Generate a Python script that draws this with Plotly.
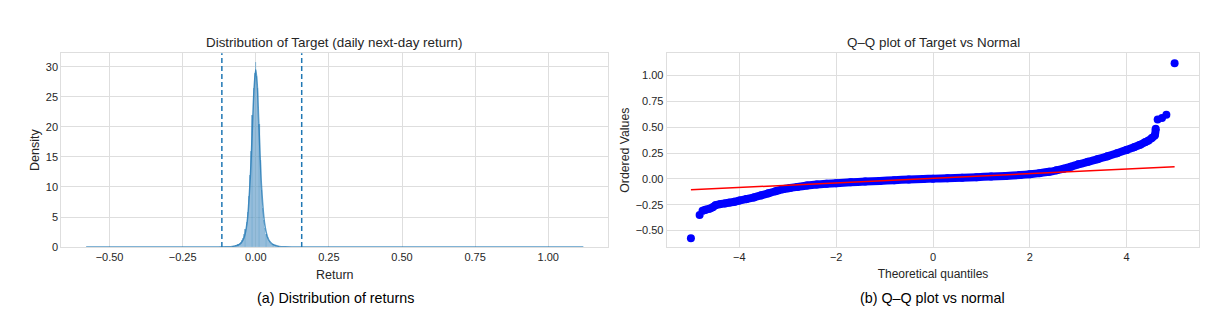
import plotly.graph_objects as go

# ---------------- data ----------------
# Histogram of returns (density), core bins; width 0.004
hist_centers = [-0.080, -0.076, -0.072, -0.068, -0.064, -0.060, -0.056, -0.052, -0.048, -0.044,
                -0.040, -0.036, -0.032, -0.028, -0.024, -0.020, -0.016, -0.012, -0.008, -0.004,
                0.000, 0.004, 0.008, 0.012, 0.016, 0.020, 0.024, 0.028, 0.032, 0.036,
                0.040, 0.044, 0.048, 0.052, 0.056, 0.060, 0.064, 0.068, 0.072, 0.076, 0.080]
hist_density = [0.1, 0.15, 0.2, 0.25, 0.35, 0.45, 0.6, 0.8, 1.1, 1.5,
                2.1, 2.9, 4.2, 5.8, 8.5, 12.0, 16.0, 22.0, 26.5, 29.0,
                30.7, 28.5, 26.5, 20.5, 14.5, 9.5, 6.5, 4.5, 3.2, 2.2,
                1.7, 1.2, 0.9, 0.7, 0.55, 0.4, 0.3, 0.25, 0.2, 0.15, 0.1]
bin_width = 0.004

# KDE curve
kde_x = [-0.58, -0.30, -0.15, -0.10, -0.08, -0.06, -0.05, -0.04, -0.03, -0.02, -0.015, -0.01, -0.005,
         0.0, 0.005, 0.01, 0.015, 0.02, 0.03, 0.04, 0.05, 0.06, 0.08, 0.10, 0.15, 0.30, 0.60, 1.12]
kde_y = [0.0, 0.0, 0.02, 0.06, 0.12, 0.35, 0.7, 1.6, 4.0, 10.5, 15.5, 22.0, 27.0,
         29.5, 27.0, 21.0, 15.0, 9.8, 4.0, 1.7, 0.8, 0.4, 0.12, 0.05, 0.02, 0.0, 0.0, 0.0]

# Dashed reference lines
vline_x = [-0.116, 0.157]

# Q-Q plot: isolated extreme points
qq_out_x = [-5.00, -4.82, 4.64, 4.73, 4.82, 4.99]
qq_out_y = [-0.576, -0.350, 0.575, 0.590, 0.620, 1.12]
# Q-Q plot: dense body of points (theoretical quantile, ordered value)
qq_theoretical = [-4.76, -4.70, -4.62, -4.55, -4.49, -4.40, -4.30, -4.20, -4.10, -4.00,
                  -3.85, -3.70, -3.55, -3.40, -3.25, -3.10, -2.95, -2.80, -2.60, -2.40, -2.20, -2.00,
                  -1.70, -1.40, -1.10, -0.80, -0.50, -0.20, 0.00, 0.30, 0.60, 0.90, 1.20, 1.50,
                  1.80, 2.00, 2.20, 2.40, 2.55, 2.70, 2.85, 3.00, 3.20, 3.40, 3.60, 3.80, 4.00,
                  4.15, 4.28, 4.38, 4.45, 4.52, 4.58, 4.60]
qq_ordered = [-0.310, -0.300, -0.290, -0.275, -0.255, -0.245, -0.238, -0.230, -0.222, -0.210,
              -0.195, -0.180, -0.160, -0.140, -0.120, -0.100, -0.088, -0.078, -0.065, -0.055, -0.048, -0.042,
              -0.034, -0.026, -0.020, -0.013, -0.007, -0.002, 0.002, 0.006, 0.011, 0.016, 0.022, 0.028,
              0.037, 0.045, 0.055, 0.068, 0.082, 0.098, 0.118, 0.140, 0.165, 0.190, 0.218, 0.248, 0.280,
              0.305, 0.330, 0.355, 0.370, 0.395, 0.420, 0.485]

fit_x = [-5.00, 4.99]
fit_y = [-0.106, 0.116]

# ---------------- figure ----------------
W, H = 1223, 324
HE = 318.5   # effective vertical scale used for placement
font_family = "Liberation Sans, Arial, sans-serif"
txt = "#262626"
gridc = "#dedede"

fig = go.Figure()

fig.add_trace(go.Bar(
    x=hist_centers, y=hist_density, width=[bin_width] * len(hist_centers),
    marker=dict(color="rgba(31,119,180,0.6)", line=dict(color="rgba(255,255,255,0.35)", width=0.4)),
    xaxis="x", yaxis="y", showlegend=False, hoverinfo="skip"))
fig.add_trace(go.Scatter(
    x=kde_x, y=kde_y, mode="lines", line=dict(color="rgba(31,119,180,0.75)", width=1.5, shape="spline"),
    xaxis="x", yaxis="y", showlegend=False))
for vx in vline_x:
    fig.add_trace(go.Scatter(
        x=[vx, vx], y=[0, 32.3], mode="lines",
        line=dict(color="#1f77b4", width=1.5, dash="5px,3px"),
        xaxis="x", yaxis="y", showlegend=False))

fig.add_trace(go.Scatter(
    x=qq_theoretical, y=qq_ordered, mode="lines+markers",
    line=dict(color="#0000ff", width=8, shape="spline", smoothing=0.6),
    marker=dict(color="#0000ff", size=8),
    xaxis="x2", yaxis="y2", showlegend=False))
fig.add_trace(go.Scatter(
    x=qq_out_x, y=qq_out_y, mode="markers",
    marker=dict(color="#0000ff", size=8),
    xaxis="x2", yaxis="y2", showlegend=False))
fig.add_trace(go.Scatter(
    x=fit_x, y=fit_y, mode="lines", line=dict(color="#ff0000", width=1.5),
    xaxis="x2", yaxis="y2", showlegend=False))

ax_common = dict(showgrid=True, gridcolor=gridc, gridwidth=1, zeroline=False,
                 showline=True, linecolor=gridc, linewidth=1, mirror=True,
                 ticks="", tickfont=dict(size=11, color=txt, family=font_family))

ydom = [1 - 247.5 / HE, 1 - 53.3 / HE]
fig.update_layout(
    width=W, height=H,
    margin=dict(l=0, r=0, t=0, b=0),
    paper_bgcolor="white", plot_bgcolor="white",
    font=dict(family=font_family, color=txt),
    bargap=0,
    xaxis=dict(domain=[61.3 / W, 608.2 / W], range=[-0.665, 1.205],
               tickvals=[-0.5, -0.25, 0, 0.25, 0.5, 0.75, 1.0], tickformat=".2f",
               anchor="y",
               title=dict(text="Return", font=dict(size=12.5, color=txt), standoff=7), **ax_common),
    yaxis=dict(domain=ydom, range=[0, 32.25], tickvals=[0, 5, 10, 15, 20, 25, 30],
               anchor="x",
               title=dict(text="Density", font=dict(size=12.5, color=txt), standoff=3), **ax_common),
    xaxis2=dict(domain=[666.7 / W, 1199.3 / W], range=[-5.5, 5.5], tickvals=[-4, -2, 0, 2, 4],
                anchor="y2",
                title=dict(text="Theoretical quantiles", font=dict(size=12, color=txt), standoff=7), **ax_common),
    yaxis2=dict(domain=ydom, range=[-0.661, 1.216],
                tickvals=[-0.5, -0.25, 0, 0.25, 0.5, 0.75, 1.0], tickformat=".2f",
                anchor="x2",
                title=dict(text="Ordered Values", font=dict(size=12.3, color=txt), standoff=3), **ax_common),
)

annots = [
    ("Distribution of Target (daily next-day return)", (61.3 + 608.2) / 2 / W, 1 - 43 / HE, 13.4),
    ("Q–Q plot of Target vs Normal", (666.7 + 1199.3) / 2 / W, 1 - 43 / HE, 13.4),
    ("(a) Distribution of returns", 335 / W, 1 - 298 / HE, 14.3),
    ("(b) Q–Q plot vs normal", 932 / W, 1 - 298 / HE, 14.3),
]
for t, x, y, s in annots:
    fig.add_annotation(text=t, x=x, y=y, xref="paper", yref="paper", showarrow=False,
                       xanchor="center", yanchor="middle",
                       font=dict(size=s, color="#000000" if t.startswith("(") else txt, family=font_family))

fig.write_html("out.html")
